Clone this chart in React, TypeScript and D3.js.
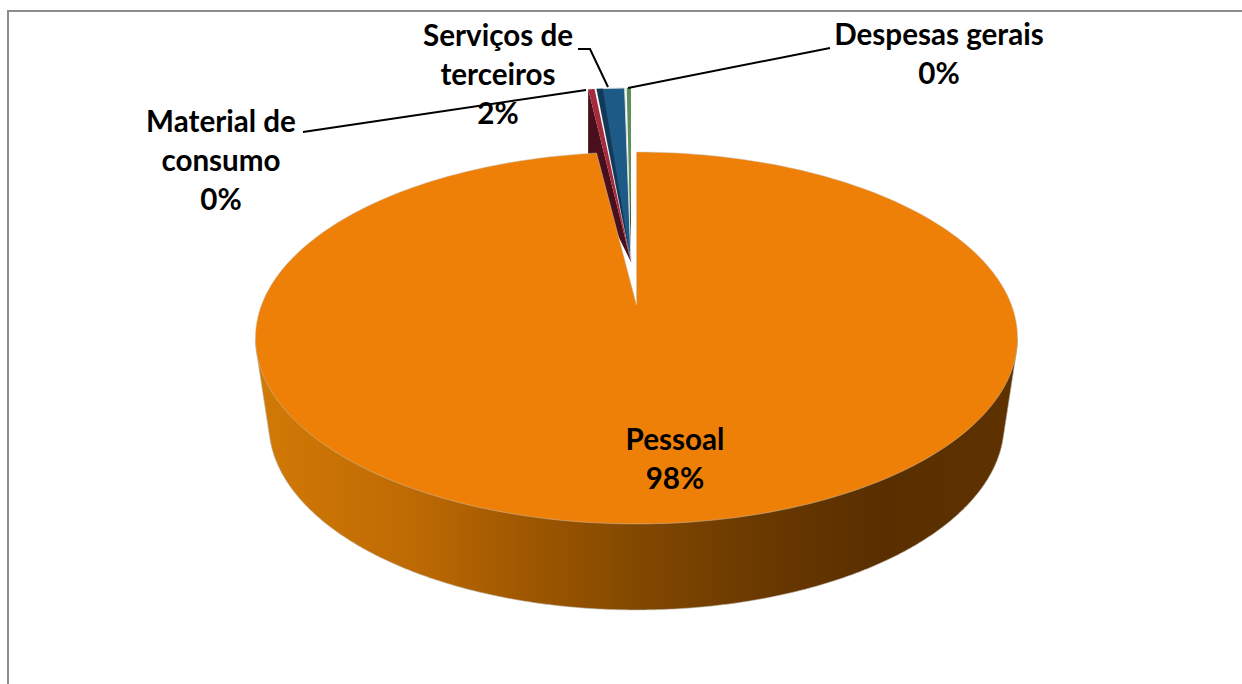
import * as d3 from "d3";

const CATEGORIES = ["Pessoal", "Material de consumo", "Serviços de terceiros", "Despesas gerais"];
const VALUES = [98, 0.3, 1.5, 0.2];
const FACE_COLORS = ["#ee7f07", "#a52a3c", "#1d5a86", "#5f8f58"];
const WALL_COLORS = ["#b85f05", "#4a0f1c", "#123a58", "#2f4a2c"];

// label lines, last line is the percent
const LABEL_LINES = [
  { x: 675, y: 450, lines: ["Pessoal"] },
  { x: 221, y: 132, lines: ["Material de", "consumo"] },
  { x: 498, y: 46, lines: ["Serviços de", "terceiros"] },
  { x: 939, y: 45, lines: ["Despesas gerais"] },
];

const LEADERS: [number, number][][] = [
  [],
  [[303, 132], [586, 90]],
  [[578, 49], [590, 49], [608, 87]],
  [[628, 88], [830, 48]],
];

const WALL_STOPS = [
  [0, "#d27a06"],
  [0.2, "#bf6b04"],
  [0.35, "#a05800"],
  [0.5, "#824800"],
  [0.7, "#653600"],
  [0.82, "#5a2f00"],
  [1, "#5e3200"],
] as const;

// perspective disc
const DISC = { cx: 636.5, cy: 305, a: 375, b: 180.1, q: 0.1774, depth: 86, shrink: 0.965 };
// exploded small slices are drawn from their own apex
const BURST = { cx: 631, cy: 262, a: 342, b: 174, inset: 0.006 };

function discPoint(angle: number, dy = 0, shrink = 1): [number, number] {
  const u = Math.sin(angle);
  const v = Math.cos(angle);
  const w = 1 + DISC.q * v;
  return [DISC.cx + (DISC.a * shrink * u) / w, DISC.cy - (DISC.b * v) / w + dy];
}

function burstPoint(angle: number, r = 1): [number, number] {
  return [BURST.cx + BURST.a * r * Math.sin(angle), BURST.cy - BURST.b * r * Math.cos(angle)];
}

const arcs = d3.pie<number>().sort(null).startAngle(0).endAngle(2 * Math.PI)(VALUES);
const line = d3.line();

function steps(a0: number, a1: number, n = 240) {
  return d3.range(n + 1).map((i) => a0 + ((a1 - a0) * i) / n);
}

function mainFace() {
  const a = arcs[0];
  const pts = steps(a.startAngle, a.endAngle).map((t) => discPoint(t));
  return line([[DISC.cx, DISC.cy], ...pts]) + "Z";
}

function mainWall() {
  const isFront = (t: number) => Math.cos(t) <= -DISC.q;
  const ts = steps(0, 2 * Math.PI, 720).filter(isFront);
  const pts = [
    ...ts.map((t) => discPoint(t)),
    ...ts.map((t) => discPoint(t, DISC.depth, DISC.shrink)),
  ];
  return line(d3.polygonHull(pts as [number, number][])!) + "Z";
}

function burstFace(a0: number, a1: number) {
  const pts = steps(a0, a1, 12).map((t) => burstPoint(t));
  return line([[BURST.cx, BURST.cy], ...pts]) + "Z";
}

function burstWall(a0: number) {
  const p = burstPoint(a0);
  return line([p, [BURST.cx, BURST.cy], [p[0], p[1] + DISC.depth]]) + "Z";
}

export default function App() {
  const small = arcs.slice(1);
  return (
    <svg
      width={1242}
      height={684}
      style={{ position: "absolute", left: 0, top: 0, background: "#fff" }}
      fontFamily="Lato, sans-serif"
    >
      <defs>
        <linearGradient id="wall" gradientUnits="userSpaceOnUse" x1={255} x2={1018} y1={0} y2={0}>
          {WALL_STOPS.map(([o, c]) => (
            <stop key={o} offset={o} stopColor={c} />
          ))}
        </linearGradient>
        <linearGradient id="greenFade" gradientUnits="userSpaceOnUse" x1={0} x2={0} y1={88} y2={250}>
          <stop offset={0.6} stopColor={FACE_COLORS[3]} />
          <stop offset={1} stopColor="#1f2a22" />
        </linearGradient>
      </defs>

      <path d="M8 684V11H1242" fill="none" stroke="#8c8c8c" strokeWidth={2} />

      {/* small slices, from the rightmost back to the left */}
      {[2, 1, 0].map((i) => {
        const a = small[i];
        const inset = i === 1 ? BURST.inset : 0;
        const a0 = a.startAngle + inset;
        const a1 = a.endAngle - inset;
        return (
          <g key={i}>
            {i === 0 && <path d={burstWall(a0)} fill={WALL_COLORS[i + 1]} />}
            <path
              d={burstFace(a0, a1)}
              fill={i === 2 ? "url(#greenFade)" : FACE_COLORS[i + 1]}
              stroke="#d5dade"
              strokeWidth={i === 1 ? 1 : 0}
            />
            {i === 1 && <path d={burstFace(a0, a0 + 0.018)} fill={WALL_COLORS[i + 1]} />}
          </g>
        );
      })}

      <path d={mainWall()} fill="url(#wall)" stroke="#b9b4ac" strokeWidth={0.6} />
      <path d={mainFace()} fill={FACE_COLORS[0]} stroke="#c9c2b8" strokeWidth={0.5} />

      {LEADERS.map((pts, i) =>
        pts.length ? (
          <path key={i} d={line(pts) ?? ""} fill="none" stroke="#000" strokeWidth={2} />
        ) : null
      )}

      {LABEL_LINES.map((l, i) => (
        <text
          key={CATEGORIES[i]}
          x={l.x}
          y={l.y}
          textAnchor="middle"
          fontSize={29.6}
          fontWeight={700}
          fill="#000"
        >
          {[...l.lines, `${Math.round(VALUES[i])}%`].map((t, j) => (
            <tspan key={j} x={l.x} dy={j === 0 ? 0 : 39}>
              {t}
            </tspan>
          ))}
        </text>
      ))}
    </svg>
  );
}
